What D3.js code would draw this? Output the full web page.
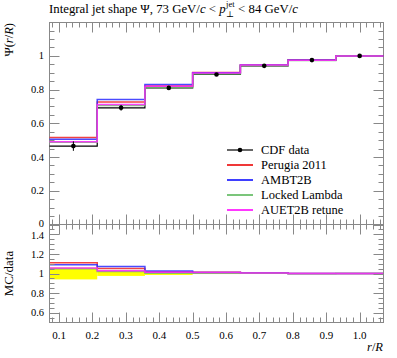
<!DOCTYPE html>
<html><head><meta charset="utf-8">
<script src="https://cdn.jsdelivr.net/npm/d3@7"></script>
<style>body{margin:0;background:#fff}svg{display:block}text{font-family:"Liberation Serif","DejaVu Serif",serif;fill:#000}</style>
</head><body>
<script>
const binEdges = [0.0714, 0.2143, 0.3571, 0.5, 0.6429, 0.7857, 0.9286, 1.0714];
const binCenters = [0.1429, 0.2857, 0.4286, 0.5714, 0.7143, 0.8571, 1.0];
const cdfData = [0.465, 0.692, 0.810, 0.890, 0.941, 0.975, 1.0];
const cdfErr = [0.028, 0.017, 0.012, 0.005, 0.004, 0.003, 0.001];
const perugia2011 = [0.516, 0.727, 0.822, 0.902, 0.946, 0.975, 1.0];
const ambt2b = [0.506, 0.742, 0.830, 0.900, 0.946, 0.976, 1.0];
const lockedLambda = [0.488, 0.706, 0.812, 0.893, 0.943, 0.972, 1.0];
const auet2bRetune = [0.491, 0.712, 0.820, 0.898, 0.946, 0.974, 1.0];
const xTicks = [0.1, 0.2, 0.3, 0.4, 0.5, 0.6, 0.7, 0.8, 0.9, 1.0];
const xTickLabels = ["0.1","0.2","0.3","0.4","0.5","0.6","0.7","0.8","0.9","1.0"];
const yTicks = [0, 0.2, 0.4, 0.6, 0.8, 1];
const yTickLabels = ["0","0.2","0.4","0.6","0.8","1"];
const rTicks = [0.6, 0.8, 1, 1.2, 1.4];
const rTickLabels = ["0.6","0.8","1","1.2","1.4"];
const legendLabels = ["CDF data","Perugia 2011","AMBT2B","Locked Lambda","AUET2B retune"];

const series = [
  {name: legendLabels[1], vals: perugia2011, color: "#ee2222"},
  {name: legendLabels[2], vals: ambt2b, color: "#2a2aff"},
  {name: legendLabels[3], vals: lockedLambda, color: "#6cbf6c"},
  {name: legendLabels[4], vals: auet2bRetune, color: "#ff22ff"}
];

const W = 397, H = 358;
const L = 49.5, R = 383.5, T = 22.5, M = 224.5, B = 322.5;
const svg = d3.select("body").append("svg").attr("width", W).attr("height", H);

const x = d3.scaleLinear().domain([binEdges[0], binEdges[binEdges.length-1]]).range([L, R]);
const y = d3.scaleLinear().domain([0, 1.198]).range([M, T]);
const yr = d3.scaleLinear().domain([0.5, 1.5]).range([B, M]);

const stepLine = (vals, ys) => {
  const pts = vals.map((v,i) => [binEdges[i], v]);
  pts.push([binEdges[binEdges.length-1], vals[vals.length-1]]);
  return d3.line().x(d => x(d[0])).y(d => ys(d[1])).curve(d3.curveStepAfter)(pts);
};

// ratio band
const ratioG = svg.append("g");
cdfData.forEach((d,i) => {
  const rel = cdfErr[i]/d;
  ratioG.append("rect").attr("x", x(binEdges[i])).attr("width", x(binEdges[i+1]) - x(binEdges[i]))
    .attr("y", yr(1+rel)).attr("height", yr(1-rel) - yr(1+rel)).attr("fill", "#ffff00");
});

// axes helpers
const tickCol = "#888";
function drawTicks(g, scale, orient, major, minorStep, dom, pos, dir) {
  const minors = d3.range(Math.ceil(dom[0]/minorStep - 1e-9), Math.floor(dom[1]/minorStep + 1e-9) + 1).map(k => +(k*minorStep).toFixed(4));
  minors.forEach(v => {
    const isMajor = major.some(m => Math.abs(m - v) < 1e-6);
    const len = isMajor ? 10 : 5;
    const p = Math.round(scale(v)) + 0.5;
    if (orient === "h") g.append("line").attr("x1", p).attr("x2", p).attr("y1", pos).attr("y2", pos + dir*len).attr("stroke", tickCol);
    else g.append("line").attr("y1", p).attr("y2", p).attr("x1", pos).attr("x2", pos + dir*len).attr("stroke", tickCol);
  });
}
const axG = svg.append("g");
const xd = x.domain();
drawTicks(axG, x, "h", xTicks, 0.02, xd, T, 1);
drawTicks(axG, x, "h", xTicks, 0.02, xd, M, -1);
drawTicks(axG, x, "h", xTicks, 0.02, xd, M, 1);
drawTicks(axG, x, "h", xTicks, 0.02, xd, B, -1);
drawTicks(axG, y, "v", yTicks, 0.05, [0, 1.19], L, 1);
drawTicks(axG, y, "v", yTicks, 0.05, [0, 1.19], R, -1);
drawTicks(axG, yr, "v", rTicks, 0.05, [0.55, 1.45], L, 1);
drawTicks(axG, yr, "v", rTicks, 0.05, [0.55, 1.45], R, -1);
axG.append("rect").attr("x", L).attr("y", T).attr("width", R-L).attr("height", M-T).attr("fill","none").attr("stroke", tickCol);
axG.append("rect").attr("x", L).attr("y", M).attr("width", R-L).attr("height", B-M).attr("fill","none").attr("stroke", tickCol);

// tick labels
const tfs = 10.5;
yTicks.forEach((v,i) => svg.append("text").attr("x", 44).attr("y", y(v) + (v === 0 ? 2 : 3.6)).attr("text-anchor","end").attr("font-size", tfs).text(yTickLabels[i]));
rTicks.forEach((v,i) => svg.append("text").attr("x", 44).attr("y", yr(v) + (v === 1.4 ? 5 : 3.6)).attr("text-anchor","end").attr("font-size", tfs).text(rTickLabels[i]));
xTicks.forEach((v,i) => svg.append("text").attr("x", x(v)).attr("y", 339).attr("text-anchor","middle").attr("font-size", tfs + 0.5).text(xTickLabels[i]));

// MC lines main
const mainG = svg.append("g");
mainG.append("path").attr("d", stepLine(cdfData, y)).attr("fill","none").attr("stroke","#000").attr("stroke-width",1.2);
series.forEach(s => mainG.append("path").attr("d", stepLine(s.vals, y)).attr("fill","none").attr("stroke", s.color).attr("stroke-width",1.5).attr("stroke-opacity",0.85));
// data points
cdfData.forEach((d,i) => {
  mainG.append("line").attr("x1", x(binCenters[i])).attr("x2", x(binCenters[i])).attr("y1", y(d - cdfErr[i])).attr("y2", y(d + cdfErr[i])).attr("stroke","#000").attr("stroke-width",1);
  mainG.append("circle").attr("cx", x(binCenters[i])).attr("cy", y(d)).attr("r", 2.3).attr("fill","#000");
});

// ratio lines
series.forEach(s => ratioG.append("path").attr("d", stepLine(s.vals.map((v,i) => v / cdfData[i]), yr)).attr("fill","none").attr("stroke", s.color).attr("stroke-width",1.5).attr("stroke-opacity",0.85));

// legend
const lg = svg.append("g");
const lx1 = 227, lx2 = 253, tx = 261, ly0 = 150, dy = 15;
legendLabels.forEach((lab, i) => {
  const yy = ly0 + i*dy;
  const col = i === 0 ? "#000" : series[i-1].color;
  lg.append("line").attr("x1", lx1).attr("x2", lx2).attr("y1", yy).attr("y2", yy).attr("stroke", col).attr("stroke-width", i===0?1.2:1.8);
  if (i === 0) lg.append("circle").attr("cx", (lx1+lx2)/2).attr("cy", yy).attr("r", 2.3).attr("fill","#000");
  lg.append("text").attr("x", tx).attr("y", yy+4).attr("font-size", 12.5).text(lab);
});

// title, built from pieces placed side by side
const tfsT = 12.8, tY = 13;
const t1 = svg.append("text").attr("x", 49).attr("y", tY).attr("font-size", tfsT);
t1.append("tspan").text("Integral jet shape Ψ, 73 GeV/");
t1.append("tspan").attr("font-style","italic").text("c");
t1.append("tspan").text(" < ");
t1.append("tspan").attr("font-style","italic").text("p");
const w1 = t1.node().getComputedTextLength();
const sx = 49 + w1 + 0.5;
const sub = svg.append("text").attr("x", sx).attr("y", tY + 4).attr("font-size", 8.5).text("⊥");
const sup = svg.append("text").attr("x", sx).attr("y", tY - 6.5).attr("font-size", 8.5).text("jet");
const ws = Math.max(sub.node().getComputedTextLength(), sup.node().getComputedTextLength());
const t2 = svg.append("text").attr("x", sx + ws + 3.5).attr("y", tY).attr("font-size", tfsT);
t2.append("tspan").text("< 84 GeV/");
t2.append("tspan").attr("font-style","italic").text("c");

// axis labels
const yl = svg.append("text").attr("transform", "translate(13,23) rotate(-90)").attr("text-anchor","end").attr("font-size", 12.5);
yl.append("tspan").text("Ψ(");
yl.append("tspan").attr("font-style","italic").text("r");
yl.append("tspan").text("/");
yl.append("tspan").attr("font-style","italic").text("R");
yl.append("tspan").text(")");
svg.append("text").attr("transform", `translate(13,${(M+B)/2}) rotate(-90)`).attr("text-anchor","middle").attr("font-size", 13).text("MC/data");
const xl = svg.append("text").attr("x", 383).attr("y", 351).attr("text-anchor","end").attr("font-size", 12.5);
xl.append("tspan").attr("font-style","italic").text("r");
xl.append("tspan").text("/");
xl.append("tspan").attr("font-style","italic").text("R");
</script>
</body></html>
